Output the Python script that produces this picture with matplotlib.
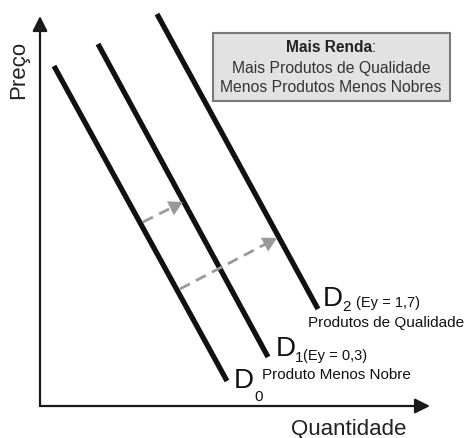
import matplotlib
matplotlib.use("Agg")
import matplotlib.pyplot as plt
from matplotlib.patches import Rectangle

plt.rcParams['font.family'] = ['Liberation Sans', 'DejaVu Sans']

# Demand curves (quantity, price) endpoints in schematic units
curve_names = ["D0", "D1", "D2"]
curve_q_top = [14, 58, 117]
curve_p_top = [340, 362, 392]
curve_q_bot = [187, 228, 278]
curve_p_bot = [25, 49, 97]

# Shift arrows (income increase)
shift_q_start = [103, 140]
shift_p_start = [184, 117]
shift_q_end = [143, 237]
shift_p_end = [204, 168]

axis_len_q = 390
axis_len_p = 390

fig = plt.figure(figsize=(4.69, 4.39), dpi=100)
ax = fig.add_axes([0, 0, 1, 1])
ax.set_xlim(-40, 429)
ax.set_ylim(-32, 407)
ax.axis('off')

# axes with arrows
ax.annotate("", xy=(axis_len_q, 0), xytext=(0, 0),
            arrowprops=dict(arrowstyle="-|>,head_length=0.9,head_width=0.45",
                            color="#1a1a1a", lw=1.6, shrinkA=0, shrinkB=0))
ax.annotate("", xy=(0, axis_len_p), xytext=(0, 0),
            arrowprops=dict(arrowstyle="-|>,head_length=0.9,head_width=0.45",
                            color="#1a1a1a", lw=1.6, shrinkA=0, shrinkB=0))

# demand lines
for qt, pt, qb, pb in zip(curve_q_top, curve_p_top, curve_q_bot, curve_p_bot):
    ax.plot([qt, qb], [pt, pb], color="#111111", lw=3.8, solid_capstyle="butt")

# dashed shift arrows
for qs, ps, qe, pe in zip(shift_q_start, shift_p_start, shift_q_end, shift_p_end):
    ax.plot([qs, qe - (qe - qs) * 0.12], [ps, pe - (pe - ps) * 0.12],
            color="#9a9a9a", lw=2.0, dashes=(4, 2.5))
    ax.annotate("", xy=(qe, pe), xytext=(qe - (qe - qs) * 0.2, pe - (pe - ps) * 0.2),
                arrowprops=dict(arrowstyle="-|>,head_length=1.0,head_width=0.55",
                                color="#9a9a9a", lw=0.1, shrinkA=0, shrinkB=0))

txt = "#111111"
# D2 labels
ax.text(283, 108, "D", fontsize=20, color=txt, ha="left", va="center")
ax.text(302, 100, "2", fontsize=11, color=txt, ha="left", va="center")
ax.text(316, 104, "(Ey = 1,7)", fontsize=10.5, color=txt, ha="left", va="center")
ax.text(268, 84, "Produtos de Qualidade", fontsize=11, color=txt, ha="left", va="center")

# D1 labels
ax.text(236, 58, "D", fontsize=20, color=txt, ha="left", va="center")
ax.text(255, 49, "1", fontsize=11, color=txt, ha="left", va="center")
ax.text(263, 51, "(Ey = 0,3)", fontsize=10.5, color=txt, ha="left", va="center")
ax.text(222, 32, "Produto Menos Nobre", fontsize=11, color=txt, ha="left", va="center")

# D0 labels
ax.text(194, 26, "D", fontsize=20, color=txt, ha="left", va="center")
ax.text(214, 10, "0", fontsize=11, color=txt, ha="left", va="center")

# axis titles
ax.text(-21, 337, "Preço", fontsize=16, rotation=90, color="#222222", ha="center", va="center")
ax.text(309, -23, "Quantidade", fontsize=16, color="#222222", ha="center", va="center")

# info box
ax.add_patch(Rectangle((173, 305), 237, 68, facecolor="#e2e2e2", edgecolor="#7a7a7a", lw=1.5))
t = ax.text(289, 360, "Mais Renda", fontsize=11.2, fontweight="bold", color="#222222",
            ha="center", va="center")
ax.annotate(":", xy=(1, 0.5), xycoords=t, fontsize=11.2, color="#222222",
            ha="left", va="center")
ax.text(291, 339, "Mais Produtos de Qualidade", fontsize=11.3, color="#333333", ha="center", va="center")
ax.text(291, 319, "Menos Produtos Menos Nobres", fontsize=11.3, color="#333333", ha="center", va="center")

fig.savefig("out.png", dpi=100)
